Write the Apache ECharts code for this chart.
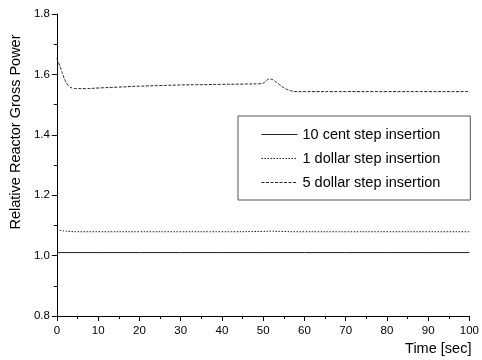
<!DOCTYPE html>
<html>
<head>
<meta charset="utf-8">
<script src="https://cdn.jsdelivr.net/npm/echarts@6/dist/echarts.min.js"></script>
<style>
  html, body { margin: 0; padding: 0; background: #fff; }
  #chart { width: 482px; height: 360px; }
</style>
</head>
<body>
<div id="chart"></div>
<script>
// 10 cent step
var time10c = [0, 10, 20, 30, 40, 50, 60, 70, 80, 90, 100];
var power10c = [1.01, 1.01, 1.01, 1.01, 1.01, 1.01, 1.01, 1.01, 1.01, 1.01, 1.01];

// 1 dollar step
var time1d = [0, 0.5, 1, 2, 3, 5, 10, 20, 30, 40, 50, 52, 54, 60, 70, 80, 90, 100];
var power1d = [1.088, 1.085, 1.083, 1.081, 1.080, 1.079, 1.079, 1.079, 1.079, 1.079, 1.080, 1.081, 1.080, 1.079, 1.079, 1.079, 1.079, 1.079];

// 5 dollar step
var time5d = [0, 0.5, 1, 1.5, 2, 2.5, 3, 4, 5, 7, 10, 15, 20, 25, 30, 35, 40, 45, 49, 50, 50.5, 51, 51.5, 52, 52.5, 53, 54, 55, 56, 57, 58, 60, 70, 80, 90, 100];
var power5d = [1.653, 1.635, 1.617, 1.597, 1.580, 1.568, 1.560, 1.554, 1.553, 1.553, 1.555, 1.558, 1.561, 1.563, 1.565, 1.566, 1.567, 1.568, 1.569, 1.571, 1.576, 1.582, 1.585, 1.584, 1.581, 1.576, 1.566, 1.556, 1.549, 1.545, 1.543, 1.543, 1.543, 1.543, 1.543, 1.543];

var seriesNames = ['10 cent step insertion', '1 dollar step insertion', '5 dollar step insertion'];

function pairs(xs, ys) {
  return xs.map(function (x, i) { return [x, ys[i]]; });
}

var font = 'Liberation Sans, Arial, sans-serif';
var myChart = echarts.init(document.getElementById('chart'));
var option = {
  animation: false,
  textStyle: { fontFamily: font, color: '#000' },
  grid: { left: 56, right: 9, top: 14, bottom: 44 },
  legend: {
    orient: 'vertical',
    left: 238,
    top: 116,
    data: seriesNames,
    itemWidth: 36,
    itemHeight: 14,
    itemGap: 9,
    padding: [11, 30, 10, 23],
    borderColor: '#555',
    borderWidth: 1,
    itemStyle: { opacity: 0 },
    lineStyle: { width: 1 },
    textStyle: { fontSize: 14.5, color: '#000', fontFamily: font }
  },
  xAxis: {
    type: 'value',
    min: 0,
    max: 100,
    interval: 10,
    name: 'Time [sec]',
    nameLocation: 'end',
    nameGap: 2,
    nameTextStyle: { fontSize: 14.5, align: 'right', verticalAlign: 'top', padding: [25, 0, 0, 0], color: '#000' },
    axisLine: { lineStyle: { color: '#000', width: 1 } },
    axisTick: { inside: false, length: 5, lineStyle: { color: '#000' } },
    minorTick: { show: true, splitNumber: 2, length: 3, lineStyle: { color: '#000' } },
    axisLabel: { fontSize: 11.5, margin: 9, color: '#000' },
    splitLine: { show: false }
  },
  yAxis: {
    type: 'value',
    min: 0.8,
    max: 1.8,
    interval: 0.2,
    name: 'Relative Reactor Gross Power',
    nameLocation: 'middle',
    nameRotate: 90,
    nameGap: 30,
    nameTextStyle: { fontSize: 14.5, color: '#000', padding: [0, 0, 0, 66] },
    axisLine: { show: true, lineStyle: { color: '#000', width: 1 } },
    axisTick: { show: true, inside: false, length: 5, lineStyle: { color: '#000' } },
    minorTick: { show: true, splitNumber: 2, length: 3, lineStyle: { color: '#000' } },
    axisLabel: { fontSize: 11.5, margin: 7, color: '#000', formatter: function (v) { return v.toFixed(1); } },
    splitLine: { show: false }
  },
  series: [
    {
      name: seriesNames[0],
      type: 'line',
      showSymbol: false,
      symbol: 'none',
      data: pairs(time10c, power10c),
      lineStyle: { color: '#222', width: 1, type: 'solid' },
      itemStyle: { color: '#222' }
    },
    {
      name: seriesNames[1],
      type: 'line',
      showSymbol: false,
      symbol: 'none',
      smooth: true,
      data: pairs(time1d, power1d),
      lineStyle: { color: '#222', width: 1, type: [1.5, 1.5] },
      itemStyle: { color: '#222' }
    },
    {
      name: seriesNames[2],
      type: 'line',
      showSymbol: false,
      symbol: 'none',
      smooth: true,
      data: pairs(time5d, power5d),
      lineStyle: { color: '#222', width: 1, type: [3, 1.5] },
      itemStyle: { color: '#222' }
    }
  ]
};
myChart.setOption(option);
</script>
</body>
</html>
